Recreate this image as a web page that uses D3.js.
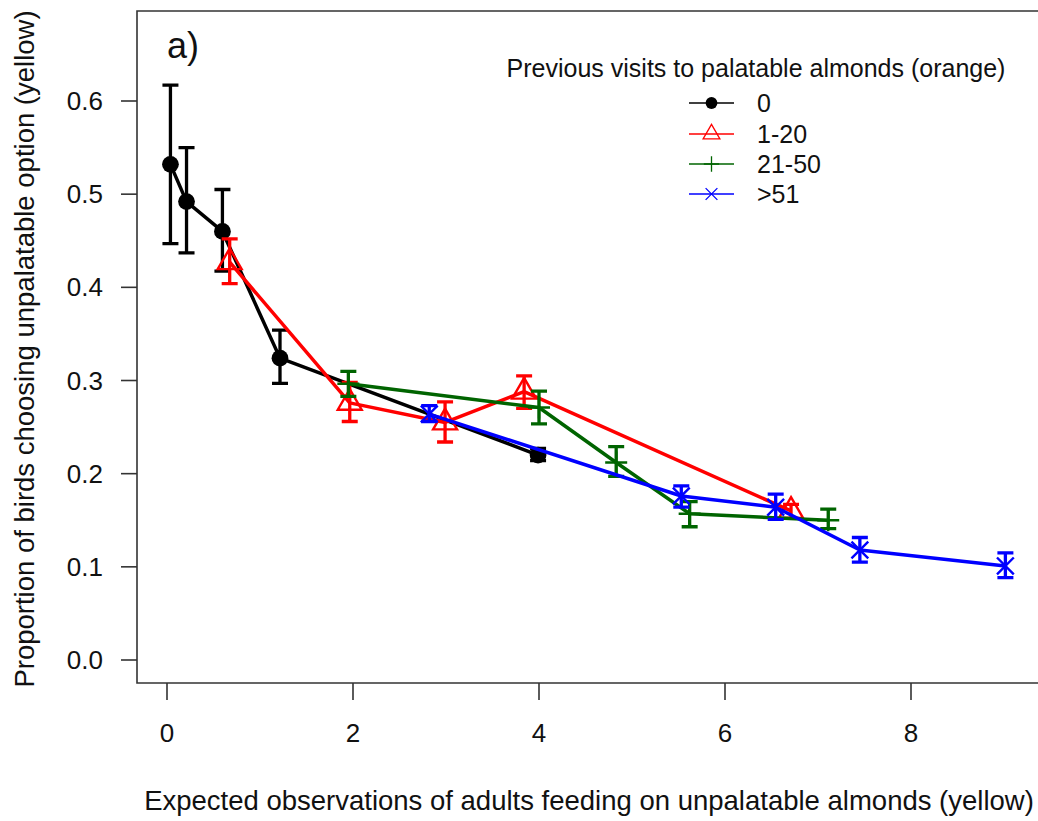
<!DOCTYPE html>
<html>
<head>
<meta charset="utf-8">
<script src="https://cdn.jsdelivr.net/npm/d3@7"></script>
<style>
html,body{margin:0;padding:0;background:#fff;}
svg{display:block;font-family:"Liberation Sans",Arial,sans-serif;}
</style>
</head>
<body>
<svg id="chart" width="1038" height="821"></svg>
<script>
// ---- data ----
const seriesNames = ["0", "1-20", "21-50", ">51"];
const blackX  = [0.037, 0.21, 0.596, 1.215, 3.99];
const blackY  = [0.532, 0.492, 0.460, 0.324, 0.220];
const blackLo = [0.447, 0.437, 0.4175, 0.297, 0.214];
const blackHi = [0.617, 0.550, 0.505, 0.354, 0.227];

const redX  = [0.674, 1.965, 2.99, 3.84, 6.71];
const redY  = [0.427, 0.276, 0.255, 0.288, 0.160];
const redLo = [0.404, 0.256, 0.234, 0.270, 0.152];
const redHi = [0.452, 0.298, 0.277, 0.305, 0.167];

const greenX  = [1.95, 4.0, 4.83, 5.62, 7.11];
const greenY  = [0.2965, 0.271, 0.212, 0.157, 0.150];
const greenLo = [0.283, 0.2534, 0.197, 0.143, 0.141];
const greenHi = [0.3097, 0.2885, 0.229, 0.170, 0.162];

const blueX  = [2.82, 5.53, 6.545, 7.45, 9.015];
const blueY  = [0.264, 0.176, 0.164, 0.118, 0.101];
const blueLo = [0.256, 0.164, 0.151, 0.105, 0.0885];
const blueHi = [0.273, 0.187, 0.178, 0.1315, 0.115];

const xTicks = [0, 2, 4, 6, 8];
const yTicks = [0.0, 0.1, 0.2, 0.3, 0.4, 0.5, 0.6];

const xTitle = "Expected observations of adults feeding on unpalatable almonds (yellow)";
const yTitle = "Proportion of birds choosing unpalatable option (yellow)";
const legendTitle = "Previous visits to palatable almonds (orange)";
const panelLabel = "a)";

// ---- layout ----
const svg = d3.select("#chart");
svg.append("rect").attr("width",1038).attr("height",821).attr("fill","#fff");
const box = {left:137, top:11, right:1042, bottom:683};
const x = d3.scaleLinear().domain([0,8]).range([167,911]);
const y = d3.scaleLinear().domain([0,0.6]).range([660,101]);
const FS = 25, FT = 26, FL = 27.5;

const series = [
  {name:seriesNames[0], color:"#000000", sym:"circle",   X:blackX, Y:blackY, Lo:blackLo, Hi:blackHi},
  {name:seriesNames[1], color:"#ff0000", sym:"triangle", X:redX,   Y:redY,   Lo:redLo,   Hi:redHi},
  {name:seriesNames[2], color:"#006400", sym:"plus",     X:greenX, Y:greenY, Lo:greenLo, Hi:greenHi},
  {name:seriesNames[3], color:"#0000ff", sym:"cross",    X:blueX,  Y:blueY,  Lo:blueLo,  Hi:blueHi}
];

function drawSymbol(g, sym, cx, cy, color, s, lw){
  if(sym==="circle"){
    g.append("circle").attr("cx",cx).attr("cy",cy).attr("r",s*0.42).attr("fill",color);
  } else if(sym==="triangle"){
    g.append("path").attr("transform",`translate(${cx},${cy})`)
      .attr("d", d3.symbol(d3.symbolTriangle, s*s*0.62)())
      .attr("fill","none").attr("stroke",color).attr("stroke-width",lw);
  } else if(sym==="plus"){
    const h = s*0.55;
    g.append("path").attr("d",`M${cx-h},${cy}H${cx+h}M${cx},${cy-h}V${cy+h}`)
      .attr("stroke",color).attr("stroke-width",lw).attr("fill","none");
  } else if(sym==="cross"){
    const h = s*0.42;
    g.append("path").attr("d",`M${cx-h},${cy-h}L${cx+h},${cy+h}M${cx-h},${cy+h}L${cx+h},${cy-h}`)
      .attr("stroke",color).attr("stroke-width",lw).attr("fill","none");
  }
}

// plot
const plot = svg.append("g");
const line = d3.line().x(d=>x(d[0])).y(d=>y(d[1]));
series.forEach(s=>{
  const pts = s.X.map((v,i)=>[v, s.Y[i]]);
  const g = plot.append("g");
  g.append("path").attr("d", line(pts)).attr("fill","none")
    .attr("stroke", s.color).attr("stroke-width",3.5).attr("stroke-linejoin","round");
  s.X.forEach((v,i)=>{
    const cx = x(v), y0 = y(s.Lo[i]), y1 = y(s.Hi[i]);
    g.append("path").attr("d",`M${cx},${y0}V${y1}M${cx-8},${y0}H${cx+8}M${cx-8},${y1}H${cx+8}`)
      .attr("stroke", s.color).attr("stroke-width",3.3).attr("fill","none");
  });
  s.X.forEach((v,i)=>{
    drawSymbol(g, s.sym, x(v), y(s.Y[i]), s.color, 20, 2.4);
  });
});

// box
svg.append("path")
  .attr("d",`M${box.right},${box.top}H${box.left}V${box.bottom}H${box.right}`)
  .attr("fill","none").attr("stroke","#333").attr("stroke-width",1.6);

// x axis ticks
const xa = svg.append("g");
xTicks.forEach(t=>{
  xa.append("line").attr("x1",x(t)).attr("x2",x(t)).attr("y1",box.bottom).attr("y2",box.bottom+17)
    .attr("stroke","#333").attr("stroke-width",1.6);
  xa.append("text").attr("x",x(t)).attr("y",733).attr("text-anchor","middle")
    .attr("dominant-baseline","central").attr("font-size",FT).attr("fill","#111").text(d3.format("d")(t));
});
// y axis ticks
const ya = svg.append("g");
yTicks.forEach(t=>{
  ya.append("line").attr("x1",box.left-16).attr("x2",box.left).attr("y1",y(t)).attr("y2",y(t))
    .attr("stroke","#333").attr("stroke-width",1.6);
  ya.append("text").attr("x",103).attr("y",y(t)).attr("text-anchor","end")
    .attr("dominant-baseline","central").attr("font-size",FT).attr("fill","#111").text(d3.format(".1f")(t));
});

// titles
svg.append("text").attr("x",589).attr("y",800).attr("text-anchor","middle")
  .attr("dominant-baseline","central").attr("font-size",FL).attr("fill","#111").text(xTitle);
svg.append("text").attr("transform","translate(24,349) rotate(-90)").attr("text-anchor","middle")
  .attr("dominant-baseline","central").attr("font-size",FL).attr("fill","#111").text(yTitle);
svg.append("text").attr("x",167).attr("y",58).attr("font-size",36).attr("fill","#111").text(panelLabel);

// legend
const lg = svg.append("g");
lg.append("text").attr("x",756).attr("y",68).attr("text-anchor","middle")
  .attr("dominant-baseline","central").attr("font-size",FS).attr("fill","#111").text(legendTitle);
const rowY = [103, 134, 164, 194];
series.forEach((s,i)=>{
  const yy = rowY[i];
  lg.append("line").attr("x1",689).attr("x2",734).attr("y1",yy).attr("y2",yy)
    .attr("stroke",s.color).attr("stroke-width",1.3);
  drawSymbol(lg, s.sym, 711.5, yy, s.color, 14, 1.3);
  lg.append("text").attr("x",757).attr("y",yy).attr("dominant-baseline","central")
    .attr("font-size",FS).attr("fill","#111").text(s.name);
});
</script>
</body>
</html>
